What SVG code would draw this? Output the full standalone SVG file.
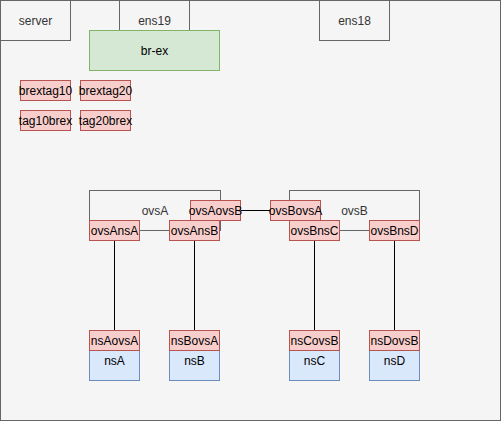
<svg xmlns="http://www.w3.org/2000/svg" width="501" height="421" viewBox="0 0 501 421">
<style>
text{font-family:"Liberation Sans",Arial,sans-serif;font-size:12px;text-anchor:middle;dominant-baseline:central}
.g{fill:#f5f5f5;stroke:#666666}
.gt{fill:#333333}
.r{fill:#f8cecc;stroke:#b85450}
.b{fill:#dae8fc;stroke:#6c8ebf}
.gr{fill:#d5e8d4;stroke:#82b366}
.c{fill:none;stroke:#666666}
.k{fill:#000000}
.ln{stroke:#000000;fill:none}
</style>
<g id="server">
<rect class="g" x="0.5" y="0.5" width="500" height="420"/>
<rect class="g" x="0.5" y="0.5" width="70" height="40"/>
<text class="gt" x="35.5" y="20.5">server</text>
</g>
<g id="ens19">
<rect class="g" x="119.5" y="0.5" width="70" height="40"/>
<text class="gt" x="154.5" y="20.5">ens19</text>
</g>
<g id="ens18">
<rect class="g" x="319.5" y="0.5" width="70" height="40"/>
<text class="gt" x="354.5" y="20.5">ens18</text>
</g>
<g id="br-ex">
<rect class="gr" x="89.5" y="30.5" width="130" height="40"/>
<text class="k" x="154.5" y="50.5">br-ex</text>
</g>
<g id="brextag10"><rect class="r" x="20.5" y="80.5" width="50" height="20"/><text class="k" x="45.5" y="90.5">brextag10</text></g>
<g id="brextag20"><rect class="r" x="80.5" y="80.5" width="50" height="20"/><text class="k" x="105.5" y="90.5">brextag20</text></g>
<g id="tag10brex"><rect class="r" x="20.5" y="110.5" width="50" height="20"/><text class="k" x="45.5" y="120.5">tag10brex</text></g>
<g id="tag20brex"><rect class="r" x="80.5" y="110.5" width="50" height="20"/><text class="k" x="105.5" y="120.5">tag20brex</text></g>
<g id="ovsA">
<rect class="c" x="89.5" y="190.5" width="131" height="40"/>
<text class="gt" x="155" y="210.5">ovsA</text>
</g>
<g id="ovsB">
<rect class="c" x="289.5" y="190.5" width="130" height="40"/>
<text class="gt" x="354.5" y="210.5">ovsB</text>
</g>
<g id="connectors">
<line class="ln" x1="240.5" y1="210.5" x2="270.5" y2="210.5"/>
<line class="ln" x1="114.5" y1="240.5" x2="114.5" y2="330.5"/>
<line class="ln" x1="194.5" y1="240.5" x2="194.5" y2="330.5"/>
<line class="ln" x1="314.5" y1="240.5" x2="314.5" y2="330.5"/>
<line class="ln" x1="394.5" y1="240.5" x2="394.5" y2="330.5"/>
</g>
<g id="ovsAnsA"><rect class="r" x="89.5" y="220.5" width="50" height="20"/><text class="k" x="114.5" y="230.5">ovsAnsA</text></g>
<g id="ovsAnsB"><rect class="r" x="169.5" y="220.5" width="50" height="20"/><text class="k" x="194.5" y="230.5">ovsAnsB</text></g>
<g id="ovsAovsB"><rect class="r" x="190.5" y="200.5" width="50" height="20"/><text class="k" x="215.5" y="210.5">ovsAovsB</text></g>
<g id="ovsBovsA"><rect class="r" x="270.5" y="200.5" width="50" height="20"/><text class="k" x="295.5" y="210.5">ovsBovsA</text></g>
<g id="ovsBnsC"><rect class="r" x="289.5" y="220.5" width="50" height="20"/><text class="k" x="314.5" y="230.5">ovsBnsC</text></g>
<g id="ovsBnsD"><rect class="r" x="369.5" y="220.5" width="50" height="20"/><text class="k" x="394.5" y="230.5">ovsBnsD</text></g>
<g id="nsA"><rect class="b" x="89.5" y="350.5" width="50" height="30"/><text class="k" x="114.5" y="360.5">nsA</text>
<rect class="r" x="89.5" y="330.5" width="50" height="20"/><text class="k" x="114.5" y="340.5">nsAovsA</text></g>
<g id="nsB"><rect class="b" x="169.5" y="350.5" width="50" height="30"/><text class="k" x="194.5" y="360.5">nsB</text>
<rect class="r" x="169.5" y="330.5" width="50" height="20"/><text class="k" x="194.5" y="340.5">nsBovsA</text></g>
<g id="nsC"><rect class="b" x="289.5" y="350.5" width="50" height="30"/><text class="k" x="314.5" y="360.5">nsC</text>
<rect class="r" x="289.5" y="330.5" width="50" height="20"/><text class="k" x="314.5" y="340.5">nsCovsB</text></g>
<g id="nsD"><rect class="b" x="369.5" y="350.5" width="50" height="30"/><text class="k" x="394.5" y="360.5">nsD</text>
<rect class="r" x="369.5" y="330.5" width="50" height="20"/><text class="k" x="394.5" y="340.5">nsDovsB</text></g>
</svg>
